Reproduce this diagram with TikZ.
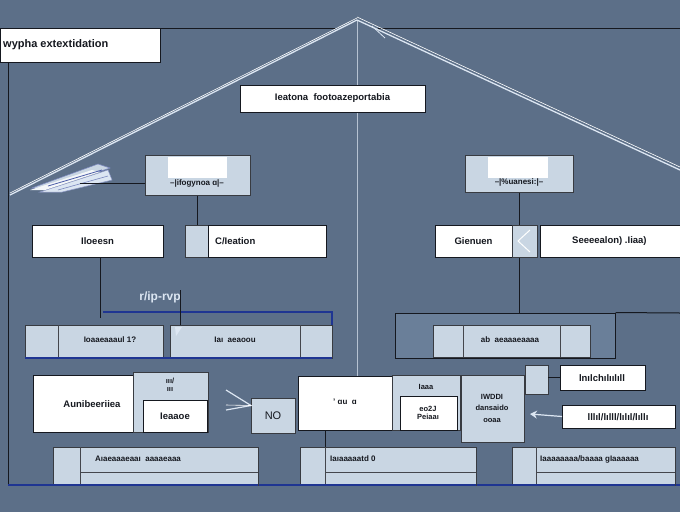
\documentclass[tikz,border=0pt]{standalone}
\usepackage{fontspec}
\setmainfont{Liberation Sans}
\usetikzlibrary{fit,arrows.meta,backgrounds}
\definecolor{bgc}{HTML}{5C6F88}
\definecolor{lb}{HTML}{C9D6E3}
\definecolor{db}{HTML}{1F3592}
\definecolor{ink}{HTML}{15181F}
\definecolor{pale}{HTML}{DCE6F2}
\definecolor{framefill}{HTML}{6A7F99}
\pgfdeclarelayer{bottom}
\pgfsetlayers{bottom,background,main}
\newcommand\bx[5]{\node[#1, fit={(#2) (#3)}, label={[boxtxt]center:#5}] (#4) {};}
\begin{document}
\begin{tikzpicture}[x=1pt,y=-1pt,
  boxtxt/.style={font=\fontsize{9.5}{11}\selectfont\bfseries, text=ink, inner sep=0pt, align=center},
  wbox/.style={draw=ink, line width=1pt, fill=white, inner sep=0pt, outer sep=0pt},
  lbox/.style={draw=ink!85, line width=0.8pt, fill=lb, inner sep=0pt, outer sep=0pt},
  txt/.style={font=\fontsize{9.5}{11}\selectfont\bfseries, text=ink, inner sep=0pt},
  mtxt/.style={font=\fontsize{8}{9}\selectfont\bfseries, text=ink, inner sep=0pt},
  stxt/.style={font=\fontsize{7.5}{8.5}\selectfont\bfseries, text=ink, inner sep=0pt, align=center},
  conn/.style={draw=ink, line width=1pt},
  dconn/.style={draw=db, line width=1.2pt},
  div/.style={draw=ink!80, line width=0.7pt},
  roof/.style={draw=pale, line width=1.3pt},
  roofb/.style={draw=white, line width=0.6pt}]
\begin{pgfonlayer}{bottom}
\fill[bgc] (0,0) rectangle (680,512);
\end{pgfonlayer}
\useasboundingbox (0,0) rectangle (680,512);

% ---- frame and roof
\coordinate (apex) at (357,20);
\coordinate (roofL) at (10,195);
\coordinate (roofR) at (680,170);
\coordinate (topA) at (335,28);
\coordinate (topB) at (378,28);
\coordinate (topC) at (680,28);
\coordinate (frBL) at (8,485);
\coordinate (frBR) at (680,485);

\bx{wbox}{0,28}{160,62}{title}{}
\node[txt, anchor=west, font=\fontsize{11}{12}\selectfont\bfseries] (titletxt) at (3,45) {wypha extextidation};

\draw[conn] (title.north east) -- (topA);
\draw[conn] (topB) -- (topC);
\draw[conn] (8,62) -- (frBL);
\draw[dconn] (frBL) -- (frBR);

\draw[roof] (apex) -- (roofL);
\draw[roofb] ([yshift=2pt]apex) -- ([yshift=2pt]roofL);
\draw[roof] (apex) -- (roofR);
\draw[roofb] ([yshift=3pt]apex) -- ([yshift=3pt]roofR);
\draw[roof, line width=0.8pt] (372,26) -- (385,38);

% ---- airplane decoration
\coordinate (plane) at (80,183);
\fill[lb, draw=db!60, line width=0.5pt] (32,188) -- (98,164) -- (110,168) -- (50,188) -- cycle;
\fill[pale, draw=db!50, line width=0.5pt] (40,192) -- (108,170) -- (112,180) -- (62,192) -- cycle;
\fill[white!80!lb] (30,190) -- (92,170) -- (100,172) -- (45,190) -- cycle;
\draw[db!80, line width=0.8pt] (48,186) -- (102,170);
\draw[db!60, line width=0.6pt] (58,190) -- (108,176);

% ---- header
\bx{wbox}{240,85}{425,112}{hdr}{Ieatona \ footoazeportabia}

% ---- level 1 boxes
\bx{lbox}{145,155}{250,195}{nA}{}
\fill[white] (168,157) rectangle (227,178);
\node[mtxt] (nAtxt) at (197,183) {–|ifogynoa ɑ|–};
\bx{lbox}{465,155}{573,192}{nB}{}
\fill[white] (488,157) rectangle (548,178);
\node[mtxt] (nBtxt) at (519,182) {–|\%uanesi:|–};

\draw[conn] (plane) -- (plane -| nA.west);

% ---- level 2
\bx{wbox}{32,225}{163,257}{b1}{Iloeesn}
\bx{lbox}{185,225}{208,257}{b2sq}{}
\bx{wbox}{208,225}{326,257}{b2}{}
\node[txt, anchor=west] (b2txt) at (215,241) {C/Ieation};
\bx{wbox}{435,225}{512,257}{b3}{Gienuen}
\bx{lbox}{512,225}{537,257}{b3sq}{}
\draw[white, line width=1pt] (530,230) -- (518,241) -- (530,252);
\bx{wbox}{540,225}{680,257}{b4}{}
\node[txt, anchor=west] (b4txt) at (572,241) {Seeeealon) .Iiaa)};

% ---- level 3
\bx{lbox}{25,325}{163,358}{r3a}{}
\draw[div] (58,325) -- (58,358);
\node[mtxt] (r3atxt) at (110,340) {Ioaaeaaaul 1?};
\bx{lbox}{170,325}{332,358}{r3b}{}
\draw[div] (300,325) -- (300,358);
\node[mtxt] (r3btxt) at (235,340) {Iaı \ aeaoou};
\draw[dconn] (25,358) -- (332,358);
\coordinate (blTop) at (103,312);
\draw[dconn] (blTop) -- (332,312) -- (r3b.north east);

\node[font=\fontsize{12}{13}\selectfont\bfseries, text=pale, inner sep=1pt] (lbl) at (160,297) {r/ip-rvp};
\coordinate (lblarr) at (180,290);

\node[draw=ink, line width=1pt, fill=framefill, inner sep=0pt, fit={(395,313) (615,358)}] (r3f) {};
\draw[conn] (r3f.north east) -- (680,313);
\bx{lbox}{433,325}{590,357}{r3c}{}
\draw[div] (463,325) -- (463,357);
\draw[div] (560,325) -- (560,357);
\node[mtxt] (r3ctxt) at (510,340) {ab \ aeaaaeaaaa};

% ---- level 4
\bx{wbox}{33,375}{133,432}{a1}{}
\node[txt] (a1txt) at (92,404) {Aunibeeriiea};
\bx{lbox}{133,372}{208,432}{a2}{}
\node[stxt] (a2txt) at (170,385) {ııı/\\ ııı};
\bx{wbox}{143,400}{207,432}{a2in}{Ieaaoe}
\coordinate (chev) at (226,410);
\bx{lbox}{251,398}{295,433}{no}{\fontsize{11}{12}\selectfont\mdseries NO}
\bx{wbox}{298,376}{392,430}{m1}{}
\node[mtxt] (m1txt) at (345,402) {' ɑu \ ɑ};
\bx{lbox}{392,375}{460,430}{m2}{}
\node[stxt] (m2txt) at (426,387) {Iaaa};
\bx{wbox}{400,396}{457,430}{m2in}{}
\node[stxt] (m2intxt) at (428,413) {eo2J\\Peiaaı};
\bx{lbox}{461,375}{524,442}{m3}{}
\node[stxt, align=center] (m3txt) at (492,408) {IWDDI\\[3pt] dansaido\\[3pt] ooaa};
\bx{lbox}{525,365}{548,394}{sq}{}
\bx{wbox}{560,365}{645,390}{t1}{}
\node[txt] (t1txt) at (602,378) {lnılchılıılıll};
\bx{wbox}{562,405}{675,428}{t2}{}
\node[txt] (t2txt) at (618,417) {lllıl/lılll/lılıl/lıllı};
\coordinate (hook) at (530,414);

% ---- level 5
\bx{lbox}{53,447}{258,485}{c1}{}
\draw[div] (80,447) -- (80,485);
\draw[div] (80,472) -- (258,472);
\node[mtxt] (c1txt) at (138,459) {Aıaeaaaeaaı \ aaaaeaaa};
\bx{lbox}{300,447}{476,485}{c2}{}
\coordinate (c2d) at (325,447);
\draw[div] (c2d) -- (325,485);
\draw[div] (325,472) -- (476,472);
\node[mtxt, anchor=west] (c2txt) at (330,459) {Iaıaaaaatd 0};
\bx{lbox}{512,447}{675,485}{c3}{}
\draw[div] (536,447) -- (536,485);
\draw[div] (536,472) -- (675,472);
\node[mtxt, anchor=west] (c3txt) at (540,459) {Iaaaaaaaa/baaaa gIaaaaaa};
\draw[dconn] (c1.south west) -- (c1.south east);
\draw[dconn] (c2.south west) -- (c2.south east);
\draw[dconn] (c3.south west) -- (c3.south east);

% ---- connectors (behind boxes)
\begin{pgfonlayer}{background}
\draw[draw=pale!70!bgc, line width=0.8pt] (apex) -- (apex |- m1.north);
\draw[conn] (nA.south) -- (nA.south |- b2sq.north);
\draw[conn] (nB.south) -- (nB.south |- r3c.north);
\draw[conn] (b1.south -| 100,0) -- (100,318);
\draw[conn] (c2d |- m1.south) -- (c2d);
\end{pgfonlayer}
\draw[conn] (lblarr) -- (lblarr |- r3b.north);
\fill[pale] (175,327) -- (182,327) -- (176,336) -- cycle;
\draw[conn] (sq.east |- t1.west) -- (t1.west);
\draw[draw=pale, line width=1.2pt] (chev) -- ([yshift=10pt]no.west) -- ([yshift=20pt]chev);
\draw[draw=white, line width=0.6pt] ([yshift=5pt]chev) -- ([yshift=10pt]no.west);
\draw[draw=pale, line width=1.2pt, -{Stealth[length=7pt,width=8pt]}] (t2.west) -- (hook);
\end{tikzpicture}
\end{document}
